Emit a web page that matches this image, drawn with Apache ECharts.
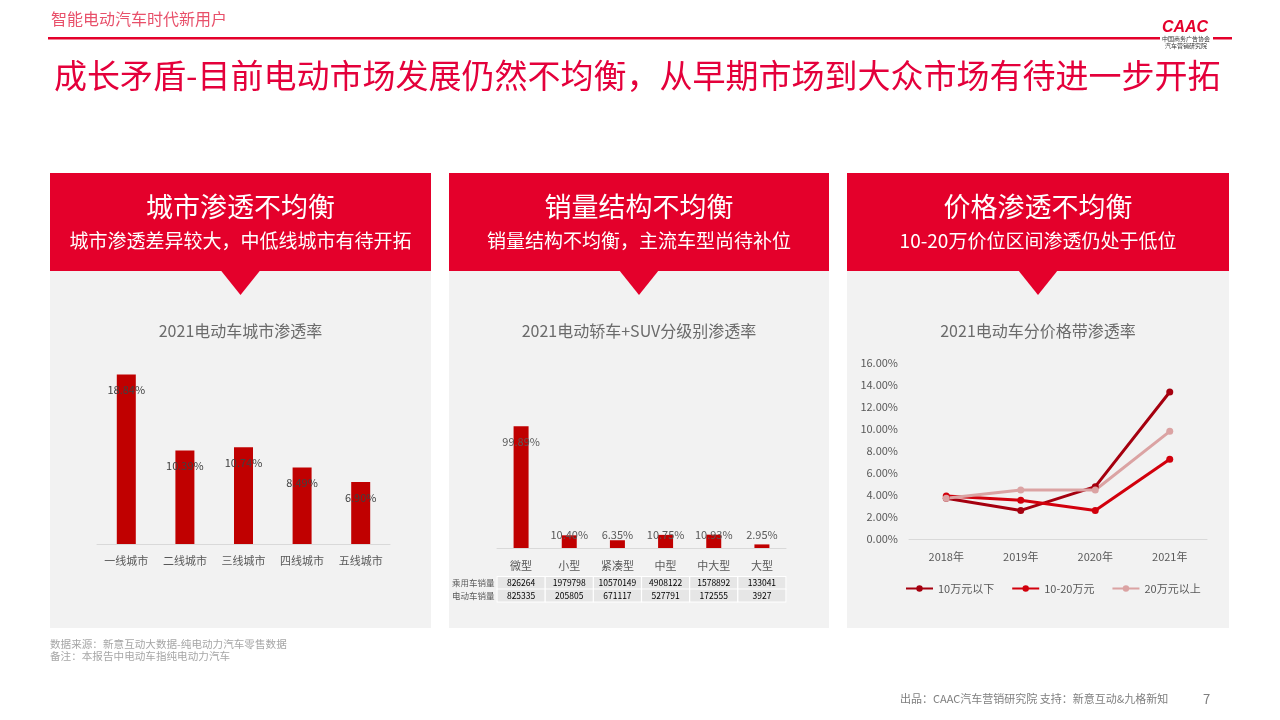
<!DOCTYPE html>
<html><head><meta charset="utf-8">
<script src="https://cdn.jsdelivr.net/npm/echarts@6/dist/echarts.min.js"></script>
<style>html,body{margin:0;padding:0;background:#fff}#c{width:1280px;height:720px}</style>
</head><body><div id="c"></div>
<script>
// ---- data ----
const cityCats = ['一线城市','二线城市','三线城市','四线城市','五线城市'];
const cityRates = [18.84, 10.39, 10.74, 8.49, 6.90];
const sizeCats = ['微型','小型','紧凑型','中型','中大型','大型'];
const sizeRates = [99.89, 10.40, 6.35, 10.75, 10.93, 2.95];
const passengerSales = [826264, 1979798, 10570149, 4908122, 1578892, 133041];
const evSales = [825335, 205805, 671117, 527791, 172555, 3927];
const tableRowNames = ['乘用车销量','电动车销量'];
const years = ['2018年','2019年','2020年','2021年'];
const priceNames = ['10万元以下','10-20万元','20万元以上'];
const priceLow = [3.70, 2.60, 4.76, 13.36];
const priceMid = [3.90, 3.52, 2.60, 7.24];
const priceHigh = [3.70, 4.45, 4.45, 9.79];
const yTicks = [0, 16, 2];

const panels = [
  {x: 50, w: 381, title: '城市渗透不均衡', sub: '城市渗透差异较大，中低线城市有待开拓', chart: '2021电动车城市渗透率'},
  {x: 449, w: 380, title: '销量结构不均衡', sub: '销量结构不均衡，主流车型尚待补位', chart: '2021电动轿车+SUV分级别渗透率'},
  {x: 847, w: 382, title: '价格渗透不均衡', sub: '10-20万价位区间渗透仍处于低位', chart: '2021电动车分价格带渗透率'}
];

const FONT = '"Noto Sans CJK SC","Noto Sans",sans-serif';
const RED = '#e4002b';
const pct = v => (typeof v === 'object' ? v.value : v).toFixed(2) + '%';

const g = [];
function txt(text, x, y, size, color, align, extra) {
  g.push(Object.assign({type: 'text', x: x, y: y, z: 5, style: {text: text, fill: color, font: size + 'px ' + FONT, textAlign: align || 'left', textVerticalAlign: 'middle'}}, extra || {}));
}
// header
txt('智能电动汽车时代新用户', 51, 19, 16, '#e8506a');
g.push({type: 'rect', z: 1, shape: {x: 48, y: 37, width: 1112, height: 2.5}, style: {fill: RED}});
g.push({type: 'rect', z: 1, shape: {x: 1213, y: 37, width: 19, height: 2.5}, style: {fill: RED}});
g.push({type: 'text', x: 1185, y: 28, z: 5, style: {text: 'CAAC', fill: '#e4002b', font: 'italic bold 16px "Liberation Sans",Arial,sans-serif', textAlign: 'center', textVerticalAlign: 'middle'}});
txt('中国商务广告协会', 1186, 39, 6, '#333', 'center');
txt('汽车营销研究院', 1186, 45.5, 6, '#333', 'center');
txt('成长矛盾-目前电动市场发展仍然不均衡，从早期市场到大众市场有待进一步开拓', 54, 75, 33, '#e4003b');
// panels
panels.forEach(p => {
  const cx = p.x + p.w / 2;
  g.push({type: 'rect', z: 0, shape: {x: p.x, y: 173, width: p.w, height: 455}, style: {fill: '#f2f2f2'}});
  g.push({type: 'rect', z: 1, shape: {x: p.x, y: 173, width: p.w, height: 98}, style: {fill: RED}});
  g.push({type: 'polygon', z: 1, shape: {points: [[cx - 20, 270], [cx + 20, 270], [cx, 295]]}, style: {fill: RED}});
  txt(p.title, cx, 207, 27, '#ffffff', 'center');
  txt(p.sub, cx, 241, 19, '#ffffff', 'center');
  txt(p.chart, cx, 331, 16, '#6b6b6b', 'center');
});
// table row names
txt(tableRowNames[0], 452, 583, 8.5, '#595959');
txt(tableRowNames[1], 452, 595.5, 8.5, '#595959');
// footer
txt('数据来源：新意互动大数据-纯电动力汽车零售数据', 50, 644, 10.6, '#a6a6a6');
txt('备注：本报告中电动车指纯电动力汽车', 50, 656, 10.6, '#a6a6a6');
txt('出品：CAAC汽车营销研究院 支持：新意互动&九格新知', 900, 699, 11, '#7f7f7f');
txt('7', 1203, 699, 13, '#7f7f7f');

const catAxis = (gi, data, margin) => ({
  type: 'category', gridIndex: gi, data: data,
  axisLine: {lineStyle: {color: '#d9d9d9'}}, axisTick: {show: false},
  axisLabel: {color: '#595959', fontSize: 11, margin: margin, interval: 0, fontFamily: FONT}
});
const tableAxis = (data, offset) => ({
  type: 'category', gridIndex: 1, data: data.map(String), position: 'bottom', offset: offset,
  axisLine: {show: false}, axisTick: {show: false},
  axisLabel: {interval: 0, margin: 0, color: '#000', fontSize: 8.5, fontFamily: FONT,
    backgroundColor: '#e6e6e6', borderColor: '#ffffff', borderWidth: 1,
    width: 47, height: 12, lineHeight: 12, align: 'center'}
});

const option = {
  animation: false,
  textStyle: {fontFamily: FONT},
  graphic: g,
  grid: [
    {left: 97, top: 364, width: 293, height: 180},
    {left: 497, top: 426, width: 289, height: 122},
    {left: 909, top: 363, width: 298, height: 176}
  ],
  xAxis: [
    catAxis(0, cityCats, 11),
    catAxis(1, sizeCats, 12),
    tableAxis(passengerSales, 29),
    tableAxis(evSales, 41.5),
    catAxis(2, years, 12)
  ],
  yAxis: [
    {type: 'value', gridIndex: 0, min: 0, max: 20, show: false},
    {type: 'value', gridIndex: 1, min: 0, max: 100, show: false},
    {type: 'value', gridIndex: 2, min: yTicks[0], max: yTicks[1], interval: yTicks[2],
      axisLine: {show: false}, axisTick: {show: false}, splitLine: {show: false},
      axisLabel: {formatter: v => v.toFixed(2) + '%', color: '#595959', fontSize: 11, margin: 11}}
  ],
  legend: {
    data: priceNames, left: 900, top: 578, itemWidth: 27, itemHeight: 8, itemGap: 17,
    textStyle: {color: '#595959', fontSize: 11, fontFamily: FONT}
  },
  series: [
    {type: 'bar', xAxisIndex: 0, yAxisIndex: 0, data: cityRates, barWidth: 19,
      itemStyle: {color: '#c00000'},
      label: {show: true, position: 'insideTop', distance: 10, color: '#404040', fontSize: 11, formatter: p => pct(p.value)}},
    {type: 'bar', xAxisIndex: 1, yAxisIndex: 1, barWidth: 15, itemStyle: {color: '#c00000'},
      data: sizeRates.map(v => ({value: v, label: v > 50 ? {position: 'insideTop', distance: 10} : {position: 'insideBottom', distance: 8}})),
      label: {show: true, color: '#595959', fontSize: 11, formatter: p => pct(p.value)}},
    {name: priceNames[0], type: 'line', xAxisIndex: 4, yAxisIndex: 2, data: priceLow, symbol: 'circle', symbolSize: 7,
      lineStyle: {width: 3, color: '#a5000f'}, itemStyle: {color: '#a5000f'}},
    {name: priceNames[1], type: 'line', xAxisIndex: 4, yAxisIndex: 2, data: priceMid, symbol: 'circle', symbolSize: 7,
      lineStyle: {width: 3, color: '#d2000c'}, itemStyle: {color: '#d2000c'}},
    {name: priceNames[2], type: 'line', xAxisIndex: 4, yAxisIndex: 2, data: priceHigh, symbol: 'circle', symbolSize: 7,
      lineStyle: {width: 3, color: '#dba3a3'}, itemStyle: {color: '#dba3a3'}}
  ]
};
const chart = echarts.init(document.getElementById('c'));
chart.setOption(option);
</script></body></html>
